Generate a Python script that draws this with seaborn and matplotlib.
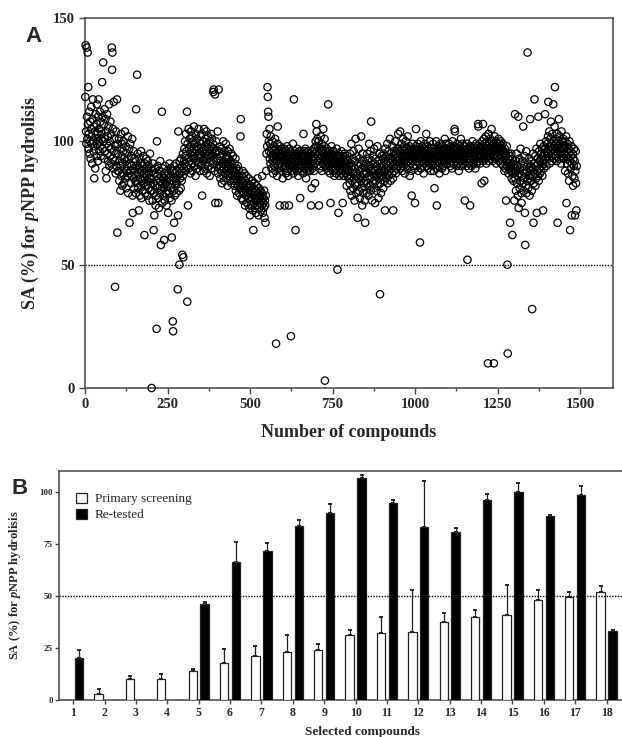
import numpy as np
import pandas as pd
import matplotlib
matplotlib.use("Agg")
import matplotlib.pyplot as plt
import seaborn as sns

# ---------------- panel A : SA (%) of every compound in the primary screen ----------------
# values, 50 compounds per list (compound 1 -> 1490)
sa_0001 = [118, 139, 104, 99, 138, 110, 101, 136, 107, 122, 97, 103, 112, 95, 100, 108, 93, 105, 114, 99,
           102, 91, 109, 117, 100, 96, 106, 85, 98, 104, 89, 111, 101, 94, 107, 115, 99, 103, 92, 110,
           117, 100, 105, 96, 112, 98, 108, 94, 104, 101]
sa_0051 = [103, 124, 110, 97, 132, 100, 107, 93, 113, 101, 96, 109, 88, 104, 85, 99, 111, 95, 102, 92,
           106, 98, 115, 90, 100, 94, 108, 97, 103, 91, 138, 129, 136, 93, 105, 89, 116, 96, 101, 92,
           41, 98, 87, 104, 95, 90, 117, 63, 99, 88]
sa_0101 = [95, 88, 101, 84, 92, 97, 80, 90, 103, 86, 94, 99, 82, 91, 87, 96, 100, 83, 93, 89,
           104, 85, 92, 98, 81, 88, 95, 90, 86, 102, 79, 93, 87, 97, 67, 91, 99, 88, 83, 94,
           90, 86, 101, 78, 71, 89, 96, 85, 81, 93]
sa_0151 = [88, 84, 92, 79, 113, 86, 90, 127, 83, 95, 81, 87, 72, 89, 93, 78, 85, 91, 82, 96,
           77, 88, 84, 90, 86, 80, 94, 83, 87, 62, 91, 85, 79, 89, 93, 82, 86, 88, 78, 92,
           84, 81, 90, 87, 76, 85, 95, 80, 83, 89]
sa_0201 = [85, 0, 80, 88, 76, 91, 83, 64, 79, 70, 87, 82, 89, 74, 84, 78, 24, 100, 86, 81,
           90, 77, 85, 73, 88, 82, 79, 92, 84, 58, 80, 86, 112, 75, 83, 89, 78, 85, 81, 60,
           87, 76, 90, 83, 79, 86, 74, 84, 88, 80]
sa_0251 = [82, 71, 87, 79, 85, 91, 77, 84, 89, 81, 86, 76, 61, 83, 88, 27, 23, 80, 90, 67,
           85, 78, 87, 82, 91, 84, 79, 88, 83, 86, 40, 70, 104, 89, 80, 50, 92, 85, 87, 81,
           93, 88, 84, 90, 54, 86, 95, 53, 89, 92]
sa_0301 = [97, 91, 100, 88, 94, 103, 96, 90, 112, 35, 99, 74, 93, 105, 89, 97, 101, 92, 95, 87,
           104, 98, 91, 96, 102, 88, 94, 100, 93, 106, 97, 90, 95, 99, 86, 103, 92, 96, 101, 89,
           98, 94, 91, 105, 97, 93, 100, 88, 95, 102]
sa_0351 = [94, 99, 90, 103, 78, 96, 92, 100, 88, 97, 105, 93, 89, 98, 101, 95, 91, 104, 87, 96,
           99, 93, 102, 90, 97, 94, 100, 86, 95, 98, 92, 103, 89, 96, 101, 94, 91, 99, 120, 121,
           97, 93, 88, 119, 75, 95, 100, 92, 96, 90]
sa_0401 = [93, 104, 87, 75, 121, 96, 89, 92, 98, 85, 94, 90, 88, 97, 83, 91, 95, 86, 100, 92,
           89, 84, 96, 91, 87, 93, 99, 85, 90, 94, 88, 82, 96, 91, 86, 93, 89, 97, 84, 90,
           92, 87, 95, 83, 91, 88, 86, 94, 89, 85]
sa_0451 = [88, 84, 91, 82, 86, 93, 80, 87, 85, 89, 78, 84, 90, 82, 86, 79, 88, 83, 85, 81,
           102, 109, 84, 77, 86, 80, 83, 88, 76, 82, 85, 79, 87, 81, 74, 84, 80, 78, 86, 82,
           75, 83, 79, 81, 77, 85, 80, 73, 82, 70]
sa_0501 = [79, 76, 82, 74, 80, 77, 84, 72, 78, 64, 81, 75, 79, 83, 73, 77, 80, 71, 76, 82,
           78, 74, 85, 76, 79, 70, 81, 77, 73, 78, 75, 80, 72, 76, 79, 74, 86, 78, 71, 75,
           77, 73, 80, 69, 76, 74, 67, 78, 88, 95]
sa_0551 = [103, 98, 122, 118, 112, 110, 100, 96, 105, 93, 99, 91, 102, 95, 89, 97, 94, 100, 92, 87,
           96, 93, 98, 90, 95, 101, 88, 94, 18, 97, 92, 86, 99, 106, 93, 90, 96, 89, 94, 74,
           98, 91, 95, 88, 93, 97, 90, 94, 85, 96]
sa_0601 = [92, 95, 89, 97, 74, 93, 90, 96, 87, 94, 91, 98, 88, 95, 92, 86, 93, 74, 97, 90,
           94, 89, 96, 21, 92, 88, 95, 91, 93, 99, 87, 94, 117, 90, 96, 92, 89, 64, 95, 91,
           93, 88, 97, 94, 90, 86, 95, 92, 89, 96]
sa_0651 = [91, 77, 94, 89, 96, 92, 88, 95, 90, 93, 87, 103, 94, 91, 96, 89, 92, 97, 90, 85,
           94, 92, 88, 95, 91, 93, 96, 89, 92, 94, 88, 91, 95, 90, 74, 93, 81, 96, 89, 92,
           94, 90, 97, 88, 93, 91, 83, 95, 100, 98]
sa_0701 = [107, 104, 96, 101, 92, 98, 94, 100, 74, 95, 89, 97, 93, 102, 90, 96, 99, 88, 94, 97,
           91, 105, 95, 92, 98, 101, 3, 94, 90, 96, 93, 89, 97, 92, 95, 88, 115, 94, 91, 96,
           90, 93, 87, 75, 95, 92, 98, 89, 94, 91]
sa_0751 = [93, 88, 96, 90, 92, 86, 95, 91, 89, 94, 87, 92, 97, 90, 48, 93, 88, 71, 91, 95,
           86, 92, 89, 94, 90, 87, 96, 91, 88, 93, 75, 90, 94, 86, 92, 89, 95, 88, 91, 87,
           93, 90, 82, 94, 89, 86, 92, 88, 90, 85]
sa_0801 = [88, 83, 95, 80, 91, 86, 99, 78, 90, 84, 93, 87, 81, 96, 85, 89, 76, 92, 83, 101,
           87, 79, 94, 86, 82, 69, 90, 85, 97, 80, 88, 93, 77, 86, 91, 84, 102, 81, 89, 74,
           95, 85, 79, 92, 87, 83, 90, 76, 67, 88]
sa_0851 = [84, 91, 87, 79, 95, 83, 89, 93, 78, 86, 99, 82, 90, 85, 96, 80, 108, 88, 92, 76,
           87, 94, 83, 89, 81, 97, 86, 91, 75, 88, 93, 84, 80, 90, 86, 98, 82, 89, 77, 92,
           85, 87, 95, 38, 83, 91, 79, 88, 94, 86]
sa_0901 = [90, 86, 93, 81, 95, 88, 92, 84, 72, 97, 89, 91, 85, 94, 87, 99, 83, 92, 90, 96,
           86, 93, 88, 101, 91, 84, 95, 89, 93, 87, 98, 92, 85, 72, 94, 90, 96, 88, 93, 100,
           91, 87, 95, 92, 89, 97, 94, 90, 103, 96]
sa_0951 = [93, 97, 91, 95, 104, 89, 96, 92, 99, 94, 88, 97, 93, 101, 90, 95, 98, 92, 87, 96,
           94, 100, 91, 97, 93, 89, 95, 102, 92, 96, 90, 94, 98, 86, 93, 97, 91, 95, 88, 78,
           96, 92, 99, 94, 90, 95, 93, 97, 89, 75]
sa_1001 = [94, 98, 105, 92, 96, 90, 95, 99, 93, 88, 97, 94, 91, 96, 59, 93, 100, 89, 95, 92,
           98, 94, 90, 96, 93, 87, 97, 95, 91, 99, 94, 92, 96, 103, 90, 95, 93, 98, 89, 94,
           97, 92, 95, 91, 100, 93, 96, 88, 94, 97]
sa_1051 = [92, 96, 90, 95, 99, 93, 88, 97, 81, 94, 91, 96, 93, 100, 89, 74, 95, 92, 98, 94,
           90, 96, 93, 87, 97, 94, 91, 99, 95, 92, 96, 89, 94, 98, 93, 90, 97, 95, 92, 101,
           94, 88, 96, 93, 99, 91, 95, 97, 92, 94]
sa_1101 = [96, 93, 99, 91, 95, 97, 90, 94, 98, 92, 96, 89, 95, 100, 93, 97, 91, 94, 98, 105,
           104, 95, 92, 97, 93, 90, 96, 99, 94, 91, 97, 95, 88, 93, 98, 96, 92, 94, 101, 90,
           95, 97, 93, 99, 91, 96, 94, 92, 98, 95]
sa_1151 = [76, 94, 98, 92, 96, 90, 95, 99, 52, 93, 97, 91, 95, 89, 96, 93, 74, 98, 94, 92,
           97, 90, 95, 100, 93, 96, 91, 98, 94, 92, 97, 95, 89, 93, 99, 96, 91, 94, 98, 92,
           107, 106, 95, 97, 93, 99, 91, 96, 94, 98]
sa_1201 = [97, 83, 100, 94, 98, 107, 92, 96, 101, 84, 95, 99, 93, 97, 102, 91, 96, 100, 94, 98,
           10, 95, 103, 92, 97, 99, 94, 101, 96, 93, 98, 105, 95, 100, 92, 97, 94, 99, 10, 96,
           102, 93, 98, 95, 100, 91, 97, 94, 99, 96]
sa_1251 = [98, 94, 101, 92, 97, 95, 99, 93, 96, 100, 91, 98, 94, 97, 92, 99, 95, 90, 96, 93,
           88, 97, 94, 89, 95, 76, 92, 98, 90, 50, 14, 93, 87, 95, 91, 89, 94, 67, 92, 90,
           88, 95, 85, 91, 62, 93, 87, 84, 90, 88]
sa_1301 = [76, 89, 111, 85, 92, 80, 88, 95, 83, 90, 86, 78, 110, 73, 87, 93, 81, 89, 84, 97,
           91, 79, 75, 86, 92, 83, 88, 106, 80, 90, 85, 94, 71, 58, 87, 82, 96, 79, 88, 84,
           136, 91, 81, 89, 86, 93, 78, 85, 109, 90]
sa_1351 = [88, 84, 92, 80, 32, 89, 86, 95, 67, 83, 91, 117, 87, 94, 82, 90, 85, 97, 71, 88,
           93, 86, 91, 110, 84, 96, 89, 92, 87, 99, 93, 88, 95, 90, 97, 86, 94, 72, 92, 98,
           89, 95, 91, 111, 97, 93, 100, 90, 96, 94]
sa_1401 = [99, 95, 102, 116, 93, 97, 104, 91, 98, 101, 96, 108, 94, 99, 92, 103, 97, 95, 115, 100,
           93, 98, 106, 122, 96, 101, 94, 99, 97, 92, 103, 67, 98, 95, 100, 109, 93, 97, 102, 95,
           99, 91, 96, 104, 98, 94, 100, 97, 93, 101]
sa_1451 = [97, 93, 100, 95, 88, 98, 94, 102, 75, 96, 91, 99, 93, 87, 97, 95, 84, 100, 92, 64,
           96, 89, 94, 98, 70, 91, 86, 95, 82, 93, 90, 97, 85, 92, 70, 88, 96, 83, 72, 90]

# ---------------- panel B : selected compounds ----------------
selected = [str(i) for i in range(1, 19)]
primary_sa = [np.nan, 3, 10, 10, 14, 18, 21, 23, 24, 31.3, 32.4, 32.7, 37.4, 40, 40.7, 48, 49.4, 52]
primary_err = [np.nan, 2.2, 1.5, 2.3, 0.9, 6.4, 5, 8.3, 2.9, 2.2, 7.5, 20.2, 4.6, 3, 14.4, 4.8, 2.7, 2.6]
retest_sa = [20, np.nan, np.nan, np.nan, 46.2, 66.5, 71.8, 83.6, 89.6, 106.7, 94.7, 83, 80.8, 96.2, 100, 88.6, 98.7, 33.2]
retest_err = [4, np.nan, np.nan, np.nan, 1.1, 9.5, 3.5, 2.8, 4.5, 1.3, 1.3, 22.1, 1.9, 2.7, 4.2, 0.3, 4, 0.3]
assays = ["Primary screening", "Re-tested"]

sa_all = np.concatenate([sa_0001, sa_0051, sa_0101, sa_0151, sa_0201, sa_0251, sa_0301, sa_0351,
                         sa_0401, sa_0451, sa_0501, sa_0551, sa_0601, sa_0651, sa_0701, sa_0751,
                         sa_0801, sa_0851, sa_0901, sa_0951, sa_1001, sa_1051, sa_1101, sa_1151,
                         sa_1201, sa_1251, sa_1301, sa_1351, sa_1401, sa_1451])
df_a = pd.DataFrame({"compound": np.arange(1, len(sa_all) + 1), "sa": sa_all})

rows = []
for assay, vals, errs in [(assays[0], primary_sa, primary_err), (assays[1], retest_sa, retest_err)]:
    for c, v, e in zip(selected, vals, errs):
        if not np.isnan(v):
            rows.append({"compound": c, "assay": assay, "sa": v, "err": e})
df_b = pd.DataFrame(rows)

sns.set_style("ticks")
plt.rcParams["font.family"] = ["Liberation Serif", "DejaVu Serif"]
plt.rcParams["font.weight"] = "bold"
plt.rcParams["axes.labelweight"] = "bold"
plt.rcParams["mathtext.fontset"] = "custom"
plt.rcParams["mathtext.rm"] = "Liberation Serif:bold"
plt.rcParams["mathtext.it"] = "Liberation Serif:italic:bold"

ylab = r"SA (%) for $\mathit{p}$NPP hydrolisis"
spine_col = "#444444"

fig = plt.figure(figsize=(6.22, 7.37), dpi=100)
W, H = 622, 737
axA = fig.add_axes([85 / W, 1 - 388 / H, 528 / W, 370 / H])
axB = fig.add_axes([59 / W, 1 - 700 / H, 579 / W, 229 / H])

# ---- A
sns.scatterplot(data=df_a, x="compound", y="sa", ax=axA, s=28, facecolors="none",
                edgecolor="black", linewidth=0.9, clip_on=False, zorder=3)
axA.axhline(50, color="black", lw=1.0, ls=(0, (1, 1)), zorder=2)
axA.set_xlim(0, 1600)
axA.set_ylim(0, 150)
axA.set_xticks([0, 250, 500, 750, 1000, 1250, 1500])
axA.set_xticks(np.arange(125, 1600, 250), minor=True)
axA.set_yticks([0, 50, 100, 150])
axA.tick_params(axis="both", labelsize=10.5, width=1, length=4, color=spine_col)
axA.tick_params(axis="x", which="minor", length=2.5, width=1, color=spine_col)
axA.set_xlabel("Number of compounds", fontsize=13)
axA.set_ylabel(ylab, fontsize=13)
axA.xaxis.set_label_coords(0.5, -0.098)
axA.yaxis.set_label_coords(-0.083, 0.5)
for sp in axA.spines.values():
    sp.set_color(spine_col)
    sp.set_linewidth(1.1)

# ---- B
sns.barplot(data=df_b, x="compound", y="sa", hue="assay", order=selected, hue_order=assays,
            palette={assays[0]: "white", assays[1]: "black"}, edgecolor="#222222",
            linewidth=0.9, width=0.76, gap=0.3, errorbar=None, ax=axB, zorder=3)
bar_containers = list(axB.containers)
for assay, cont in zip(assays, bar_containers):
    sub = df_b[df_b["assay"] == assay]
    lookup = dict(zip(sub["compound"], sub["err"]))
    for patch in cont.patches:
        xc = patch.get_x() + patch.get_width() / 2
        cat = selected[int(round(xc))]
        axB.errorbar(xc, patch.get_height(), yerr=[[0], [lookup[cat]]], fmt="none",
                     ecolor="#222222", elinewidth=0.9, capsize=1.6, capthick=1.4, zorder=2)
axB.axhline(50, color="black", lw=1.0, ls=(0, (1, 1)), zorder=4)
axB.set_xlim(-0.45, 18.0)
axB.set_ylim(0, 110)
axB.set_yticks([0, 25, 50, 75, 100])
axB.tick_params(axis="y", labelsize=6.5, width=1, length=3, color=spine_col, pad=1.5)
axB.tick_params(axis="x", labelsize=8.5, width=1, length=3, color=spine_col, pad=2)
axB.set_xlabel("Selected compounds", fontsize=9.5)
axB.set_ylabel(ylab, fontsize=9)
axB.xaxis.set_label_coords(0.525, -0.112)
axB.yaxis.set_label_coords(-0.062, 0.5)
for sp in axB.spines.values():
    sp.set_color(spine_col)
    sp.set_linewidth(1.1)
sns.move_legend(axB, "upper left", bbox_to_anchor=(0.03, 0.905), frameon=False, title=None,
                prop={"family": "Liberation Serif", "weight": "normal", "size": 9.5},
                handlelength=0.8, handleheight=0.8, handletextpad=0.6, labelspacing=0.25,
                borderaxespad=0, borderpad=0)

fig.text(33 / W, 1 - 36 / H, "A", ha="center", va="center", fontsize=16,
         family="Liberation Sans", weight="bold")
fig.text(20 / W, 1 - 488 / H, "B", ha="center", va="center", fontsize=16,
         family="Liberation Sans", weight="bold")

fig.savefig("out.png", dpi=100)
